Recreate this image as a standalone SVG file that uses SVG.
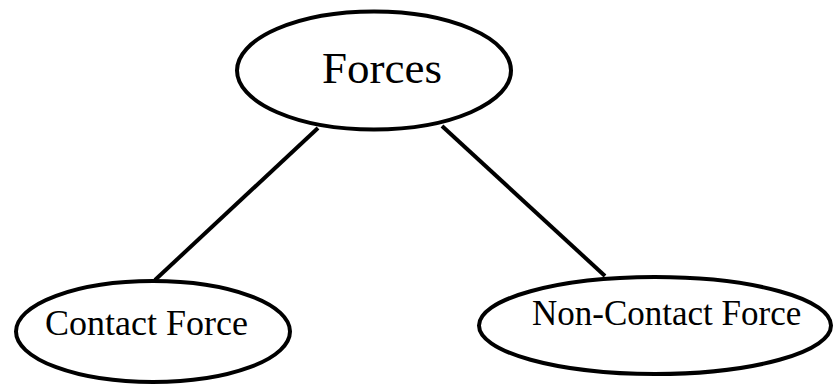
<svg xmlns="http://www.w3.org/2000/svg" width="834" height="385" viewBox="0 0 834 385">
<style>
.node{fill:#fff;stroke:#000;stroke-width:4}
.edge{stroke:#000;stroke-width:4;fill:none}
text{font-family:"Liberation Serif","Times New Roman",serif;fill:#000}
</style>
<rect width="834" height="385" fill="#fff"/>
<g id="connectors">
<line class="edge" x1="318" y1="128" x2="155" y2="280"/>
<line class="edge" x1="442" y1="126" x2="605" y2="276"/>
</g>
<g id="forces">
<ellipse class="node" cx="374" cy="70.5" rx="137" ry="59"/>
<text x="322" y="83" font-size="45">Forces</text>
</g>
<g id="contact">
<ellipse class="node" cx="153" cy="331.5" rx="137" ry="50.5"/>
<text x="45" y="335" font-size="36">Contact Force</text>
</g>
<g id="noncontact">
<ellipse class="node" cx="655" cy="325.5" rx="176" ry="48.5"/>
<text x="532" y="325" font-size="35">Non-Contact Force</text>
</g>
</svg>
